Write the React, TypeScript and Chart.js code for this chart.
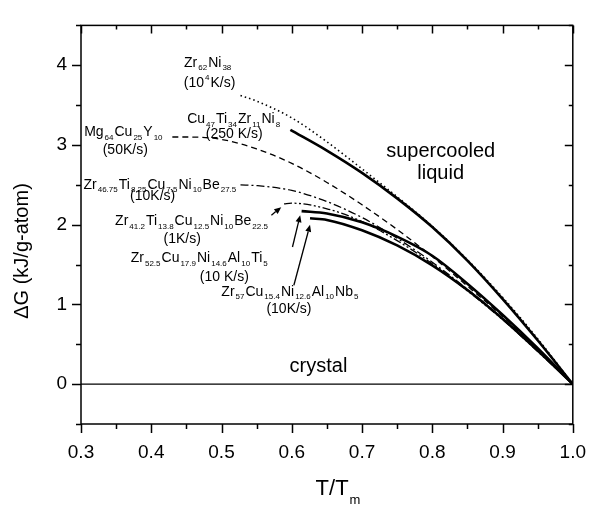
import React, { useEffect, useRef } from "react";
import { Chart, registerables } from "chart.js";

Chart.register(...registerables);

// ---------- data ----------
const xTicks = [0.3, 0.4, 0.5, 0.6, 0.7, 0.8, 0.9, 1.0];
const yTicks = [0, 1, 2, 3, 4];

const zrNiT = [0.527, 0.55, 0.6, 0.65, 0.7, 0.75, 0.8, 0.85, 0.9, 0.95, 1.0];
const zrNiG = [3.62, 3.55, 3.34, 3.04, 2.7, 2.35, 1.98, 1.56, 1.09, 0.57, 0];

const cuTiT = [0.598, 0.65, 0.7, 0.75, 0.8, 0.85, 0.9, 0.95, 1.0];
const cuTiG = [3.19, 2.93, 2.65, 2.33, 1.97, 1.55, 1.07, 0.55, 0];

const mgCuT = [0.43, 0.45, 0.5, 0.55, 0.6, 0.65, 0.7, 0.75, 0.8, 0.85, 0.9, 0.95, 1.0];
const mgCuG = [3.1, 3.1, 3.07, 2.95, 2.77, 2.53, 2.25, 1.94, 1.6, 1.23, 0.85, 0.43, 0];

const vit4T = [0.527, 0.55, 0.6, 0.65, 0.7, 0.75, 0.8, 0.85, 0.9, 0.95, 1.0];
const vit4G = [2.5, 2.49, 2.43, 2.29, 2.09, 1.83, 1.53, 1.19, 0.82, 0.42, 0];

const vit1T = [0.589, 0.6, 0.65, 0.7, 0.75, 0.8, 0.85, 0.9, 0.95, 1.0];
const vit1G = [2.26, 2.27, 2.2, 2.04, 1.8, 1.51, 1.17, 0.81, 0.41, 0];

const zrAlTiT = [0.614, 0.65, 0.7, 0.75, 0.8, 0.85, 0.9, 0.95, 1.0];
const zrAlTiG = [2.17, 2.14, 2.03, 1.85, 1.61, 1.26, 0.87, 0.45, 0];

const zrAlNbT = [0.626, 0.65, 0.7, 0.75, 0.8, 0.85, 0.9, 0.95, 1.0];
const zrAlNbG = [2.08, 2.06, 1.93, 1.74, 1.49, 1.18, 0.82, 0.42, 0];

const crystalT = [0.3, 1.0];
const crystalG = [0, 0];

// annotation texts (markup: _{sub}, ^{sup})
const labelTexts = [
  "Zr_{62}Ni_{38}",
  "(10^{4}K/s)",
  "Cu_{47}Ti_{34}Zr_{11}Ni_{8}",
  "(250 K/s)",
  "Mg_{64}Cu_{25}Y_{10}",
  "(50K/s)",
  "Zr_{46.75}Ti_{8.25}Cu_{7.5}Ni_{10}Be_{27.5}",
  "(10K/s)",
  "Zr_{41.2}Ti_{13.8}Cu_{12.5}Ni_{10}Be_{22.5}",
  "(1K/s)",
  "Zr_{52.5}Cu_{17.9}Ni_{14.6}Al_{10}Ti_{5}",
  "(10 K/s)",
  "Zr_{57}Cu_{15.4}Ni_{12.6}Al_{10}Nb_{5}",
  "(10K/s)",
  "crystal",
  "supercooled",
  "liquid",
];
const labelT = [0.481, 0.483, 0.518, 0.518, 0.361, 0.363, 0.413, 0.402, 0.458, 0.444, 0.469, 0.504, 0.598, 0.596, 0.638, 0.812, 0.812];
const labelG = [4.03, 3.77, 3.32, 3.13, 3.16, 2.94, 2.5, 2.36, 2.04, 1.82, 1.58, 1.34, 1.16, 0.94, 0.22, 2.92, 2.64];
const labelSize = [14, 14, 14, 14, 14, 14, 14, 14, 14, 14, 14, 14, 14, 14, 20, 20, 20];

// arrows: tail -> tip
const arrowTailT = [0.571, 0.601, 0.603];
const arrowTailG = [2.12, 1.72, 1.24];
const arrowTipT = [0.585, 0.612, 0.626];
const arrowTipG = [2.22, 2.12, 2.0];

const FONT = "'Liberation Sans', Arial, Helvetica, sans-serif";

function toPts(t: number[], g: number[]) {
  return t.map((v, i) => ({ x: v, y: g[i] }));
}

function parseRich(s: string) {
  const parts: { text: string; kind: "n" | "sub" | "sup" }[] = [];
  const re = /(_\{[^}]*\}|\^\{[^}]*\})/g;
  let last = 0;
  let m: RegExpExecArray | null;
  while ((m = re.exec(s)) !== null) {
    if (m.index > last) parts.push({ text: s.slice(last, m.index), kind: "n" });
    const tok = m[0];
    parts.push({ text: tok.slice(2, -1), kind: tok[0] === "_" ? "sub" : "sup" });
    last = m.index + tok.length;
  }
  if (last < s.length) parts.push({ text: s.slice(last), kind: "n" });
  return parts;
}

function drawRich(ctx: CanvasRenderingContext2D, s: string, cx: number, cy: number, size: number) {
  const parts = parseRich(s);
  const subSize = Math.round(size * 0.6);
  const widths = parts.map((p) => {
    ctx.font = `${p.kind === "n" ? size : subSize}px ${FONT}`;
    return ctx.measureText(p.text).width + (p.kind === "n" ? 0 : 2);
  });
  const total = widths.reduce((a, b) => a + b, 0);
  let x = cx - total / 2;
  ctx.textBaseline = "middle";
  ctx.textAlign = "left";
  ctx.fillStyle = "#000";
  parts.forEach((p, i) => {
    if (p.kind === "n") {
      ctx.font = `${size}px ${FONT}`;
      ctx.fillText(p.text, x, cy);
    } else {
      ctx.font = `${subSize}px ${FONT}`;
      const dy = p.kind === "sub" ? size * 0.38 : -size * 0.38;
      ctx.fillText(p.text, x + 1, cy + dy);
    }
    x += widths[i];
  });
}

const overlayPlugin = {
  id: "overlay",
  afterDatasetsDraw(chart: any) {
    const ctx: CanvasRenderingContext2D = chart.ctx;
    const { left, right, top, bottom } = chart.chartArea;
    const xs = chart.scales.x;
    const ys = chart.scales.y;
    ctx.save();
    ctx.strokeStyle = "#000";
    ctx.lineWidth = 1.5;
    ctx.strokeRect(left, top, right - left, bottom - top);

    // x ticks (major + minor)
    for (let i = 0; i <= 14; i++) {
      const v = 0.3 + i * 0.05;
      const px = Math.round(xs.getPixelForValue(v)) + 0.5;
      const len = i % 2 === 0 ? 9 : 5;
      ctx.beginPath();
      ctx.moveTo(px, bottom);
      ctx.lineTo(px, bottom + len);
      ctx.moveTo(px, top);
      ctx.lineTo(px, top + len - 1);
      ctx.stroke();
    }
    for (let i = 0; i <= 10; i++) {
      const v = -0.5 + i * 0.5;
      const py = Math.round(ys.getPixelForValue(v)) + 0.5;
      const len = i % 2 === 1 ? 9 : 5;
      ctx.beginPath();
      ctx.moveTo(left, py);
      ctx.lineTo(left - len, py);
      ctx.moveTo(right, py);
      ctx.lineTo(right - len + 1, py);
      ctx.stroke();
    }

    // annotations
    labelTexts.forEach((t, i) => {
      drawRich(ctx, t, xs.getPixelForValue(labelT[i]), ys.getPixelForValue(labelG[i]), labelSize[i]);
    });

    // arrows
    ctx.lineWidth = 1.3;
    ctx.fillStyle = "#000";
    arrowTailT.forEach((_, i) => {
      const x0 = xs.getPixelForValue(arrowTailT[i]);
      const y0 = ys.getPixelForValue(arrowTailG[i]);
      const x1 = xs.getPixelForValue(arrowTipT[i]);
      const y1 = ys.getPixelForValue(arrowTipG[i]);
      const a = Math.atan2(y1 - y0, x1 - x0);
      const hl = 7, hw = 3;
      const bx = x1 - hl * Math.cos(a);
      const by = y1 - hl * Math.sin(a);
      ctx.beginPath();
      ctx.moveTo(x0, y0);
      ctx.lineTo(bx, by);
      ctx.stroke();
      ctx.beginPath();
      ctx.moveTo(x1, y1);
      ctx.lineTo(bx + hw * Math.sin(a), by - hw * Math.cos(a));
      ctx.lineTo(bx - hw * Math.sin(a), by + hw * Math.cos(a));
      ctx.closePath();
      ctx.fill();
    });

    // axis titles
    ctx.fillStyle = "#000";
    ctx.save();
    ctx.translate(22, 251);
    ctx.rotate(-Math.PI / 2);
    ctx.font = `20px ${FONT}`;
    ctx.textAlign = "center";
    ctx.textBaseline = "middle";
    ctx.fillText("\u0394G (kJ/g-atom)", 0, 0);
    ctx.restore();

    ctx.font = `22px ${FONT}`;
    ctx.textBaseline = "middle";
    ctx.textAlign = "left";
    const tw = ctx.measureText("T/T").width;
    ctx.font = `13px ${FONT}`;
    const mw = ctx.measureText("m").width;
    const sx = 338 - (tw + mw + 1) / 2;
    ctx.font = `22px ${FONT}`;
    ctx.fillText("T/T", sx, 489);
    ctx.font = `13px ${FONT}`;
    ctx.fillText("m", sx + tw + 1, 500);
    ctx.restore();
  },
};

export default function App() {
  const ref = useRef<HTMLCanvasElement | null>(null);
  useEffect(() => {
    if (!ref.current) return;
    const base = {
      pointRadius: 0,
      borderColor: "#000",
      fill: false,
      cubicInterpolationMode: "monotone" as const,
    };
    const chart = new Chart(ref.current, {
      type: "line",
      data: {
        datasets: [
          { ...base, label: "crystal", data: toPts(crystalT, crystalG), borderWidth: 1.3 },
          { ...base, label: "Zr62Ni38", data: toPts(zrNiT, zrNiG), borderWidth: 1.6, borderDash: [1.5, 3] },
          { ...base, label: "Cu47Ti34Zr11Ni8", data: toPts(cuTiT, cuTiG), borderWidth: 2.6 },
          { ...base, label: "Mg64Cu25Y10", data: toPts(mgCuT, mgCuG), borderWidth: 1.3, borderDash: [6, 4] },
          { ...base, label: "Zr46.75", data: toPts(vit4T, vit4G), borderWidth: 1.3, borderDash: [8, 3, 2, 3] },
          { ...base, label: "Zr41.2", data: toPts(vit1T, vit1G), borderWidth: 1.3, borderDash: [8, 2.5, 2, 2.5, 2, 2.5] },
          { ...base, label: "Zr52.5", data: toPts(zrAlTiT, zrAlTiG), borderWidth: 2.6 },
          { ...base, label: "Zr57", data: toPts(zrAlNbT, zrAlNbG), borderWidth: 2.6 },
        ],
      },
      options: {
        animation: false,
        responsive: false,
        devicePixelRatio: 1,
        layout: { padding: { left: 0, right: 16, top: 10, bottom: 0 } },
        plugins: { legend: { display: false }, tooltip: { enabled: false } },
        scales: {
          x: {
            type: "linear",
            min: 0.3,
            max: 1.0,
            afterBuildTicks: (s: any) => {
              s.ticks = xTicks.map((v) => ({ value: v }));
            },
            ticks: {
              autoSkip: false,
              maxRotation: 0,
              padding: 17,
              color: "#000",
              font: { family: FONT, size: 19 },
              callback: (v: any) => Number(v).toFixed(1),
            },
            grid: { display: false, drawTicks: false },
            border: { display: false },
            afterFit: (s: any) => {
              s.height = 88;
            },
          },
          y: {
            type: "linear",
            min: -0.5,
            max: 4.5,
            afterBuildTicks: (s: any) => {
              s.ticks = yTicks.map((v) => ({ value: v }));
            },
            ticks: {
              autoSkip: false,
              padding: 14,
              color: "#000",
              font: { family: FONT, size: 19 },
              callback: (v: any) => String(v),
            },
            grid: { display: false, drawTicks: false },
            border: { display: false },
            afterFit: (s: any) => {
              s.width = 81;
            },
          },
        },
      },
      plugins: [overlayPlugin],
    });
    return () => chart.destroy();
  }, []);
  return (
    <div style={{ position: "fixed", left: 0, top: 0, width: 603, height: 512, background: "#fff" }}>
      <canvas ref={ref} width={603} height={512} style={{ display: "block" }} />
    </div>
  );
}
